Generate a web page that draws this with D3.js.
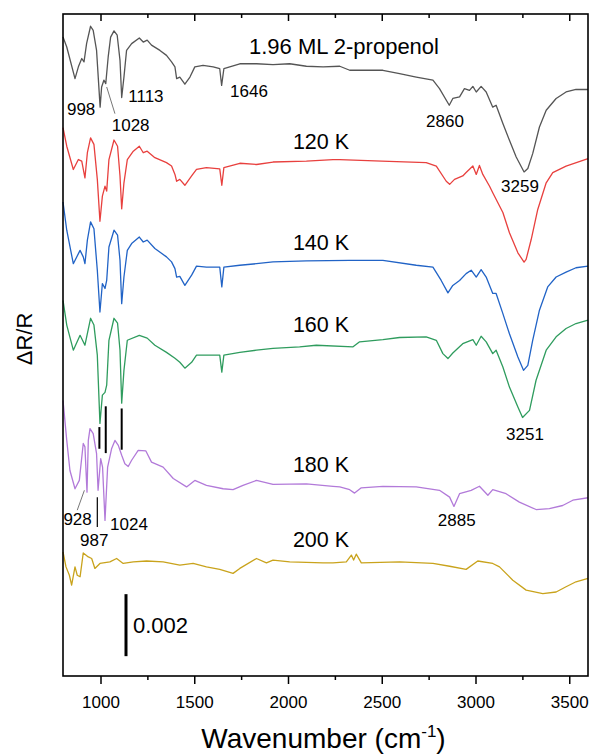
<!DOCTYPE html>
<html><head><meta charset="utf-8">
<script src="https://cdn.jsdelivr.net/npm/d3@7/dist/d3.min.js"></script>
<style>
body{margin:0;background:#fff}
svg text{font-family:"Liberation Sans",Arial,sans-serif;fill:#000}
</style>
</head><body>
<svg id="chart" width="591" height="754"></svg>
<script>
// ---- DATA (ΔR/R in units of 1e-3, relative to each trace's offset) ----
const seriesNames = ["1.96 ML 2-propenol", "120 K", "140 K", "160 K", "180 K", "200 K"];
const seriesOffsets = [19.70, 16.60, 13.41, 10.67, 6.15, 3.64];
const seriesColors = ["#555555", "#e8403e", "#2163c6", "#2f9c5e", "#b27ad9", "#c9a31c"];

const ml196 = [[800,0.91],[820,0.59],[864,-0.43],[882,-0.05],[900,0.22],[912,0.11],[926,0.71],[947,1.26],[961,1.13],[979,0.48],[998,-1.35],[1006,-0.70],[1018,-0.48],[1028,-0.59],[1041,0.27],[1054,0.91],[1072,1.11],[1089,0.97],[1104,0.16],[1113,-1.04],[1125,-0.38],[1139,0.48],[1166,0.70],[1207,0.88],[1228,0.75],[1249,0.81],[1272,0.65],[1317,0.48],[1352,0.32],[1379,0.11],[1397,-0.05],[1406,-0.43],[1423,-0.38],[1450,-0.61],[1477,-0.38],[1503,-0.05],[1547,0],[1601,-0.05],[1636,-0.11],[1646,-0.65],[1658,-0.11],[1743,0.05],[1832,0.05],[1920,0.02],[2009,0.05],[2098,-0.03],[2187,-0.05],[2276,-0.03],[2329,-0.16],[2506,-0.16],[2595,-0.27],[2684,-0.38],[2773,-0.48],[2808,-0.75],[2860,-1.29],[2879,-1.07],[2915,-1.02],[2941,-0.75],[2968,-0.81],[2986,-0.68],[3004,-0.86],[3030,-0.68],[3057,-0.86],[3092,-1.35],[3110,-1.29],[3146,-1.88],[3181,-2.42],[3217,-2.96],[3259,-3.44],[3279,-3.33],[3305,-2.85],[3341,-1.99],[3377,-1.45],[3430,-1.07],[3483,-0.86],[3536,-0.78],[3600,-0.78]];

const k120 = [[800,1.09],[820,0.49],[855,-0.26],[882,0.06],[900,0.01],[917,-0.53],[930,0.28],[947,0.76],[965,0.55],[983,-0.58],[997,-1.93],[1010,-1.12],[1024,-0.80],[1033,-0.96],[1045,0.06],[1072,0.69],[1091,0.49],[1104,-0.47],[1113,-1.53],[1125,-0.69],[1143,0.06],[1175,0.33],[1207,0.49],[1228,0.28],[1249,0.33],[1290,0.12],[1352,-0.04],[1379,-0.15],[1397,-0.42],[1406,-0.64],[1423,-0.58],[1450,-0.77],[1486,-0.47],[1512,-0.26],[1565,-0.20],[1636,-0.24],[1647,-0.77],[1658,-0.20],[1743,-0.06],[1832,-0.10],[1920,-0.02],[2098,0.01],[2240,0.06],[2276,0.06],[2500,0.01],[2737,-0.04],[2791,-0.15],[2844,-0.64],[2862,-0.74],[2888,-0.58],[2932,-0.47],[2950,-0.36],[2986,-0.15],[3004,-0.42],[3021,-0.13],[3039,-0.42],[3075,-0.80],[3092,-1.01],[3146,-1.65],[3181,-2.30],[3226,-2.95],[3259,-3.25],[3270,-3.16],[3297,-2.52],[3332,-1.55],[3377,-0.69],[3412,-0.36],[3483,-0.15],[3600,0.09]];

const k140 = [[800,1.88],[820,0.97],[855,-0.11],[891,0.32],[908,0.11],[917,-0.11],[930,0.65],[947,1.24],[965,1.02],[983,-0.32],[997,-1.67],[1010,-0.75],[1024,-0.91],[1033,-0.65],[1045,0.43],[1072,0.97],[1091,0.81],[1104,0],[1113,-1.40],[1125,-0.54],[1143,0.32],[1166,0.54],[1207,0.75],[1228,0.59],[1249,0.65],[1290,0.38],[1352,0.11],[1379,-0.05],[1397,-0.27],[1406,-0.54],[1423,-0.52],[1450,-0.81],[1486,-0.48],[1512,-0.19],[1565,-0.22],[1636,-0.22],[1647,-0.86],[1658,-0.22],[1743,-0.16],[1832,-0.11],[1920,-0.05],[2098,-0.02],[2329,0],[2506,0],[2684,-0.16],[2773,-0.22],[2817,-0.65],[2853,-1.05],[2879,-0.81],[2915,-0.65],[2950,-0.43],[2977,-0.32],[3004,-0.54],[3030,-0.30],[3057,-0.54],[3092,-1.07],[3110,-1.07],[3146,-1.72],[3181,-2.37],[3226,-3.12],[3256,-3.55],[3279,-3.39],[3305,-2.58],[3341,-1.61],[3385,-0.86],[3430,-0.54],[3483,-0.38],[3536,-0.24],[3600,-0.19]];

const k160 = [[800,1.45],[820,0.65],[855,-0.16],[891,0.32],[917,0],[947,0.87],[965,0.65],[983,-0.32],[997,-2.52],[1010,-1.61],[1024,-1.52],[1033,-1.29],[1045,0.16],[1072,0.87],[1091,0.71],[1104,-0.16],[1113,-1.87],[1125,-0.81],[1143,0.16],[1207,0.32],[1249,0.23],[1290,0],[1352,-0.23],[1397,-0.42],[1423,-0.55],[1450,-0.74],[1486,-0.55],[1512,-0.32],[1565,-0.32],[1636,-0.32],[1647,-0.87],[1658,-0.32],[1743,-0.23],[1832,-0.16],[1920,-0.10],[2062,-0.05],[2151,0],[2347,-0.05],[2382,0.11],[2506,0.18],[2595,0.25],[2737,0.27],[2791,0.16],[2826,-0.27],[2853,-0.43],[2879,-0.25],[2932,0.05],[2986,0.18],[3004,0],[3030,0.29],[3057,0.11],[3092,-0.27],[3110,-0.16],[3146,-0.70],[3181,-1.35],[3226,-1.99],[3251,-2.33],[3288,-2.10],[3323,-1.13],[3377,-0.16],[3430,0.27],[3483,0.54],[3536,0.70],[3600,0.81]];

const k180 = [[800,2.74],[820,1.45],[837,0.48],[864,-0.11],[887,0.16],[908,1.35],[917,1.24],[928,-0.22],[935,1.45],[944,1.83],[961,1.67],[979,1.02],[987,-0.16],[1001,0.86],[1011,0.59],[1024,-1.13],[1038,0.59],[1059,1.18],[1077,1.45],[1095,1.29],[1113,0.97],[1130,0.70],[1148,0.61],[1166,0.81],[1201,1.13],[1242,1.11],[1272,0.75],[1334,0.59],[1388,0.22],[1459,-0.05],[1503,0.16],[1565,0],[1654,-0.11],[1707,-0.14],[1760,0],[1832,0.16],[1920,0.03],[2098,0.05],[2240,-0.03],[2276,-0.05],[2329,-0.14],[2355,-0.25],[2391,-0.08],[2506,-0.03],[2684,-0.05],[2808,-0.16],[2862,-0.38],[2885,-0.68],[2915,-0.27],[2977,-0.16],[3021,-0.03],[3066,-0.32],[3092,-0.14],[3163,-0.27],[3234,-0.54],[3323,-0.78],[3394,-0.75],[3465,-0.65],[3519,-0.48],[3600,-0.40]];

const k200 = [[800,0.36],[816,-0.12],[834,-0.39],[846,-0.71],[864,-0.12],[876,-0.39],[891,-0.44],[908,0.33],[935,0.20],[953,0.15],[970,-0.17],[997,-0.01],[1050,0.04],[1086,0.15],[1121,-0.01],[1175,0.04],[1246,0.07],[1334,0.04],[1423,-0.06],[1494,-0.01],[1565,-0.12],[1636,-0.20],[1707,-0.33],[1743,-0.17],[1832,0.15],[1885,0.01],[1920,0.10],[2009,0.04],[2187,0.01],[2240,0.01],[2311,0.04],[2338,0.26],[2350,0.10],[2364,0.29],[2391,0.01],[2595,0.04],[2773,-0.01],[2862,-0.10],[2950,-0.20],[3012,0.07],[3092,-0.01],[3128,-0.12],[3199,-0.55],[3270,-0.87],[3359,-0.98],[3430,-0.93],[3483,-0.76],[3536,-0.60],[3600,-0.49]];

const seriesData = [ml196, k120, k140, k160, k180, k200];

const xTicks = [1000, 1500, 2000, 2500, 3000, 3500];
const xMinorTicks = [1250, 1750, 2250, 2750, 3250];

// peak annotations: [text, wavenumber, absolute ΔR/R (1e-3), anchor]
const peakLabels = [
  ["998", 821, 18.09, "start"], ["1028", 1060, 17.58, "start"], ["1113", 1148, 18.52, "start"],
  ["1646", 1691, 18.68, "start"], ["2860", 2837, 17.71, "middle"], ["3259", 3237, 15.61, "middle"],
  ["3251", 3264, 7.60, "middle"], ["928", 802, 4.86, "start"], ["987", 891, 4.19, "start"],
  ["1024", 1051, 4.70, "start"], ["2885", 2900, 4.83, "middle"]
];
const tempLabelValues = [20.05, 17.01, 13.73, 11.10, 6.58, 4.16];
// leader lines: [w1, v1, w2, v2, colour, width]
const leaders = [
  [1033, 19.0, 1077, 18.14, "#777", 1],
  [994, 8.03, 994, 7.33, "#000", 2],
  [1028, 8.70, 1028, 7.19, "#000", 2],
  [1113, 8.63, 1113, 7.30, "#000", 2],
  [876, 5.35, 914, 5.99, "#777", 1],
  [983, 5.77, 983, 4.81, "#000", 1.2]
];
const scaleBar = {w: 1136, from: 0.64, size: 2.0, label: "0.002"};

// ---- DRAWING ----
const svg = d3.select("#chart");
const L = 63, R = 588, T = 14, B = 676;
const x = d3.scaleLinear().domain([800, 3600]).range([L, R]);
const y = d3.scaleLinear().domain([0, 21.355]).range([B, T]);

const line = (off) => d3.line().x(d => x(d[0])).y(d => y(off + d[1]));

seriesData.forEach((s, i) => {
  svg.append("path").datum(s)
    .attr("d", line(seriesOffsets[i]))
    .attr("fill", "none")
    .attr("stroke", seriesColors[i])
    .attr("stroke-width", 1.3)
    .attr("stroke-linejoin", "round");
});

// frame
svg.append("rect").attr("x", L).attr("y", T).attr("width", R - L).attr("height", B - T)
  .attr("fill", "none").attr("stroke", "#000").attr("stroke-width", 1.6);

// bottom axis
const gb = svg.append("g").attr("transform", `translate(0,${B})`)
  .call(d3.axisBottom(x).tickValues(xTicks).tickSize(8).tickSizeOuter(0).tickFormat(d3.format("d")));
gb.select(".domain").remove();
gb.selectAll("line").attr("stroke-width", 1.5);
gb.selectAll("text").attr("font-size", 17).attr("dy", "1.25em").attr("font-family", "Liberation Sans, Arial, sans-serif");
const gbm = svg.append("g").attr("transform", `translate(0,${B})`)
  .call(d3.axisBottom(x).tickValues(xMinorTicks).tickSize(4).tickSizeOuter(0).tickFormat(""));
gbm.select(".domain").remove();
gbm.selectAll("line").attr("stroke-width", 1.5);

// top axis (inward ticks)
const gt = svg.append("g").attr("transform", `translate(0,${T})`)
  .call(d3.axisTop(x).tickValues(xTicks).tickSize(-7).tickSizeOuter(0).tickFormat(""));
gt.select(".domain").remove();
gt.selectAll("line").attr("stroke-width", 1.5);
const gtm = svg.append("g").attr("transform", `translate(0,${T})`)
  .call(d3.axisTop(x).tickValues(xMinorTicks).tickSize(-4).tickSizeOuter(0).tickFormat(""));
gtm.select(".domain").remove();
gtm.selectAll("line").attr("stroke-width", 1.5);

// axis titles
const xt = svg.append("text").attr("x", (L + R) / 2 - 2).attr("y", 748).attr("text-anchor", "middle").attr("font-size", 28);
xt.append("tspan").text("Wavenumber (cm");
xt.append("tspan").attr("font-size", 17).attr("dy", -11).text("-1");
xt.append("tspan").attr("dy", 11).text(")");

svg.append("text").attr("transform", "translate(32,339) rotate(-90)")
  .attr("text-anchor", "middle").attr("font-size", 22).text("ΔR/R");

// series labels
seriesNames.forEach((n, i) => {
  svg.append("text")
    .attr("x", i === 0 ? x(1792) : x(2176))
    .attr("y", y(tempLabelValues[i]))
    .attr("text-anchor", i === 0 ? "start" : "middle")
    .attr("font-size", i === 0 ? 22 : 21.5)
    .text(n);
});

// peak labels
peakLabels.forEach(p => {
  svg.append("text").attr("x", x(p[1])).attr("y", y(p[2]))
    .attr("text-anchor", p[3]).attr("font-size", 17).text(p[0]);
});

// leaders
leaders.forEach(l => {
  svg.append("line").attr("x1", x(l[0])).attr("y1", y(l[1])).attr("x2", x(l[2])).attr("y2", y(l[3]))
    .attr("stroke", l[4]).attr("stroke-width", l[5]);
});

// scale bar
svg.append("line").attr("x1", x(scaleBar.w)).attr("x2", x(scaleBar.w))
  .attr("y1", y(scaleBar.from)).attr("y2", y(scaleBar.from + scaleBar.size))
  .attr("stroke", "#000").attr("stroke-width", 3);
svg.append("text").attr("x", x(scaleBar.w) + 7).attr("y", y(scaleBar.from + scaleBar.size / 2) + 7.5)
  .attr("font-size", 22).text(scaleBar.label);
</script>
</body></html>
